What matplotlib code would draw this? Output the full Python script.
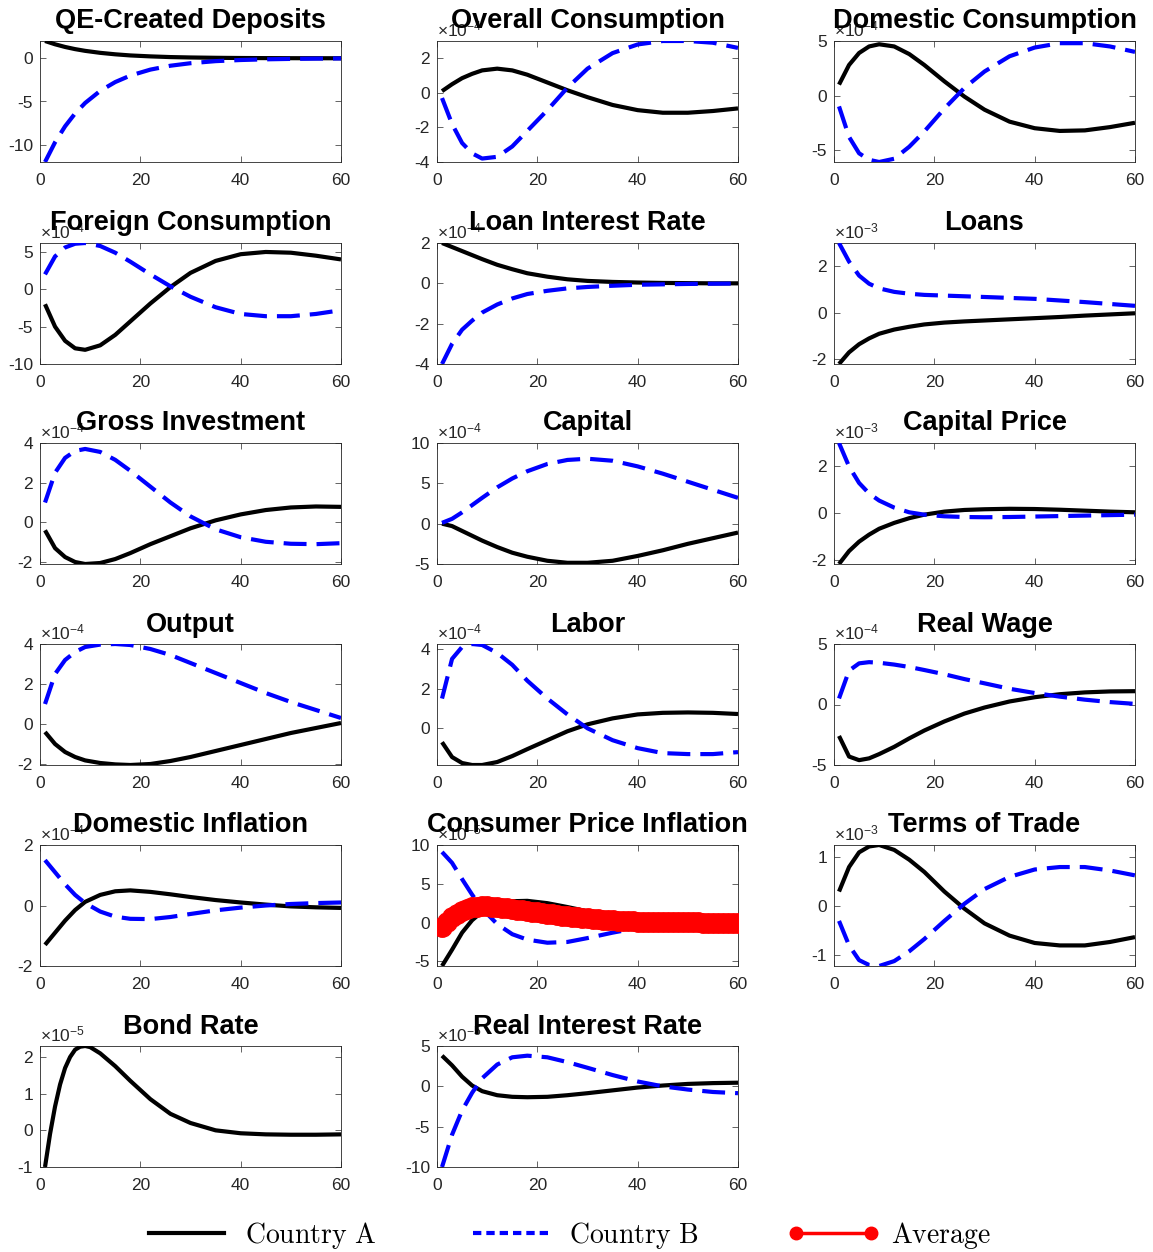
import matplotlib
matplotlib.use('Agg')
import matplotlib.pyplot as plt
from matplotlib.lines import Line2D

plt.rcParams['font.family'] = ['Liberation Sans', 'DejaVu Sans']
plt.rcParams['mathtext.fontset'] = 'custom'
plt.rcParams['mathtext.rm'] = 'Liberation Sans'
plt.rcParams['mathtext.it'] = 'Liberation Sans:italic'
plt.rcParams['mathtext.bf'] = 'Liberation Sans:bold'
plt.rcParams['axes.unicode_minus'] = False

# ---------------- data ----------------
t = [1, 3, 5, 7, 9, 12, 15, 18, 22, 26, 30, 35, 40, 45, 50, 55, 60]

qe_a = [2.0, 1.62, 1.31, 1.06, 0.86, 0.63, 0.46, 0.33, 0.22, 0.14, 0.094, 0.056, 0.033, 0.02, 0.011, 0.007, 0.004]
qe_b = [-12.0, -9.72, -7.87, -6.38, -5.17, -3.77, -2.75, -2.0, -1.31, -0.86, -0.57, -0.33, -0.20, -0.12, -0.07, -0.04, -0.02]

cons_a = [0.1, 0.5, 0.85, 1.1, 1.3, 1.4, 1.3, 1.05, 0.6, 0.15, -0.25, -0.7, -1.0, -1.15, -1.15, -1.05, -0.9]
cons_b = [-0.3, -1.8, -2.9, -3.5, -3.8, -3.7, -3.1, -2.2, -1.0, 0.3, 1.4, 2.3, 2.8, 3.0, 3.0, 2.9, 2.6]

dcons_a = [1.0, 2.8, 3.9, 4.5, 4.7, 4.5, 3.8, 2.8, 1.3, -0.1, -1.3, -2.4, -3.0, -3.25, -3.2, -2.9, -2.5]
dcons_b = [-1.0, -3.8, -5.3, -5.9, -6.1, -5.8, -4.7, -3.3, -1.2, 0.7, 2.2, 3.6, 4.4, 4.8, 4.8, 4.5, 4.0]

fcons_a = [-2.0, -5.0, -6.9, -7.9, -8.1, -7.5, -6.1, -4.3, -1.9, 0.3, 2.2, 3.8, 4.7, 5.0, 4.9, 4.5, 4.0]
fcons_b = [2.0, 4.4, 5.6, 6.1, 6.2, 5.8, 4.9, 3.7, 2.0, 0.4, -1.0, -2.4, -3.3, -3.6, -3.6, -3.3, -2.8]

lrate_a = [2.0, 1.8, 1.6, 1.4, 1.2, 0.92, 0.7, 0.5, 0.33, 0.2, 0.12, 0.07, 0.04, 0.02, 0.01, 0.0, 0.0]
lrate_b = [-4.0, -3.0, -2.3, -1.85, -1.45, -1.05, -0.75, -0.53, -0.37, -0.25, -0.18, -0.12, -0.07, -0.05, -0.03, -0.02, -0.01]

loans_a = [-2.2, -1.7, -1.35, -1.1, -0.9, -0.72, -0.6, -0.5, -0.42, -0.37, -0.33, -0.28, -0.23, -0.18, -0.12, -0.07, -0.02]
loans_b = [3.0, 2.2, 1.6, 1.25, 1.05, 0.9, 0.82, 0.77, 0.74, 0.71, 0.68, 0.64, 0.6, 0.53, 0.46, 0.38, 0.3]

inv_a = [-0.4, -1.3, -1.75, -2.0, -2.1, -2.05, -1.85, -1.55, -1.1, -0.7, -0.3, 0.1, 0.4, 0.62, 0.75, 0.8, 0.78]
inv_b = [1.0, 2.5, 3.25, 3.6, 3.7, 3.55, 3.15, 2.6, 1.8, 1.0, 0.3, -0.35, -0.75, -0.98, -1.08, -1.1, -1.05]

cap_a = [0.0, -0.3, -0.9, -1.5, -2.1, -2.9, -3.6, -4.1, -4.6, -4.85, -4.85, -4.6, -4.0, -3.3, -2.5, -1.8, -1.1]
cap_b = [0.1, 0.6, 1.4, 2.3, 3.2, 4.5, 5.6, 6.5, 7.4, 7.9, 8.05, 7.8, 7.1, 6.2, 5.2, 4.2, 3.2]

cprice_a = [-2.15, -1.6, -1.2, -0.9, -0.65, -0.4, -0.2, -0.05, 0.08, 0.15, 0.18, 0.2, 0.19, 0.16, 0.12, 0.08, 0.05]
cprice_b = [3.0, 2.0, 1.3, 0.85, 0.55, 0.25, 0.05, -0.05, -0.12, -0.15, -0.16, -0.15, -0.13, -0.11, -0.09, -0.07, -0.05]

out_a = [-0.4, -1.0, -1.4, -1.65, -1.82, -1.95, -2.02, -2.05, -2.0, -1.85, -1.65, -1.35, -1.05, -0.75, -0.45, -0.2, 0.05]
out_b = [1.0, 2.5, 3.2, 3.6, 3.85, 3.97, 4.0, 3.95, 3.75, 3.45, 3.05, 2.55, 2.05, 1.55, 1.1, 0.7, 0.3]

lab_a = [-0.7, -1.45, -1.75, -1.85, -1.85, -1.7, -1.4, -1.05, -0.6, -0.15, 0.2, 0.5, 0.7, 0.78, 0.8, 0.78, 0.72]
lab_b = [1.5, 3.5, 4.1, 4.25, 4.2, 3.8, 3.2, 2.4, 1.5, 0.7, 0.0, -0.6, -1.0, -1.25, -1.3, -1.3, -1.2]

wage_a = [-2.6, -4.3, -4.6, -4.45, -4.1, -3.5, -2.8, -2.15, -1.4, -0.75, -0.25, 0.25, 0.6, 0.85, 1.0, 1.08, 1.1]
wage_b = [0.5, 2.8, 3.4, 3.5, 3.45, 3.3, 3.1, 2.85, 2.5, 2.1, 1.75, 1.3, 0.95, 0.65, 0.4, 0.2, 0.05]

dinf_a = [-1.3, -0.9, -0.5, -0.15, 0.12, 0.35, 0.47, 0.5, 0.45, 0.37, 0.28, 0.18, 0.1, 0.03, -0.03, -0.06, -0.08]
dinf_b = [1.5, 1.1, 0.7, 0.35, 0.08, -0.2, -0.37, -0.44, -0.45, -0.38, -0.28, -0.16, -0.07, 0.0, 0.05, 0.08, 0.1]

cpi_a = [-5.6, -3.5, -1.3, 0.3, 1.4, 2.3, 2.75, 2.8, 2.5, 2.0, 1.45, 0.85, 0.4, 0.15, 0.0, -0.05, -0.05]
cpi_b = [9.1, 7.7, 5.6, 3.6, 1.8, -0.2, -1.5, -2.2, -2.6, -2.5, -2.0, -1.3, -0.7, -0.3, -0.05, 0.05, 0.1]
avg_t = list(range(1, 61))
cpi_avg = [-0.6, 0.1, 0.7, 1.15, 1.5, 1.75, 1.95, 2.05, 2.1, 2.1,
           2.05, 2.0, 1.92, 1.85, 1.75, 1.65, 1.56, 1.47, 1.38, 1.3,
           1.22, 1.14, 1.06, 0.98, 0.9, 0.83, 0.76, 0.69, 0.62, 0.56,
           0.5, 0.44, 0.39, 0.34, 0.29, 0.25, 0.21, 0.17, 0.14, 0.11,
           0.09, 0.07, 0.06, 0.05, 0.04, 0.03, 0.03, 0.02, 0.02, 0.01,
           0.01, 0.01, 0.0, 0.0, 0.0, 0.0, 0.0, 0.0, 0.0, 0.0]

tot_a = [0.3, 0.8, 1.1, 1.22, 1.25, 1.15, 0.95, 0.7, 0.3, -0.05, -0.35, -0.6, -0.75, -0.8, -0.8, -0.73, -0.63]
tot_b = [-0.3, -0.8, -1.1, -1.2, -1.22, -1.12, -0.92, -0.67, -0.3, 0.05, 0.35, 0.6, 0.75, 0.8, 0.8, 0.73, 0.63]

bond_t = [1, 2, 3, 4, 5, 6, 7, 8, 9, 10, 12, 15, 18, 22, 26, 30, 35, 40, 45, 50, 55, 60]
bond_a = [-1.0, -0.1, 0.65, 1.25, 1.7, 2.0, 2.2, 2.28, 2.3, 2.27, 2.1, 1.75, 1.35, 0.85, 0.45, 0.2, 0.0, -0.08, -0.11, -0.12, -0.12, -0.11]

rir_a = [3.8, 2.6, 1.2, 0.1, -0.6, -1.1, -1.3, -1.35, -1.3, -1.1, -0.85, -0.5, -0.15, 0.1, 0.3, 0.4, 0.45]
rir_b = [-10.0, -6.0, -3.0, -0.8, 1.0, 2.7, 3.6, 3.8, 3.6, 3.0, 2.3, 1.4, 0.6, 0.0, -0.4, -0.7, -0.85]

titles = ['QE-Created Deposits', 'Overall Consumption', 'Domestic Consumption',
          'Foreign Consumption', 'Loan Interest Rate', 'Loans',
          'Gross Investment', 'Capital', 'Capital Price',
          'Output', 'Labor', 'Real Wage',
          'Domestic Inflation', 'Consumer Price Inflation', 'Terms of Trade',
          'Bond Rate', 'Real Interest Rate']
exponents = [None, -4, -4, -4, -4, -3, -4, -4, -3, -4, -4, -4, -4, -5, -3, -5, -5]
series_a = [qe_a, cons_a, dcons_a, fcons_a, lrate_a, loans_a, inv_a, cap_a, cprice_a,
            out_a, lab_a, wage_a, dinf_a, cpi_a, tot_a, bond_a, rir_a]
series_b = [qe_b, cons_b, dcons_b, fcons_b, lrate_b, loans_b, inv_b, cap_b, cprice_b,
            out_b, lab_b, wage_b, dinf_b, cpi_b, tot_b, None, rir_b]
yticks = [[-10, -5, 0], [-4, -2, 0, 2], [-5, 0, 5], [-10, -5, 0, 5], [-4, -2, 0, 2],
          [-2, 0, 2], [-2, 0, 2, 4], [-5, 0, 5, 10], [-2, 0, 2], [-2, 0, 2, 4],
          [0, 2, 4], [-5, 0, 5], [-2, 0, 2], [-5, 0, 5, 10], [-1, 0, 1],
          [-1, 0, 1, 2], [-10, -5, 0, 5]]
xticks = [0, 20, 40, 60]
legend_labels = ['Country A', 'Country B', 'Average']

# ---------------- layout ----------------
W, H = 1153, 1252
fig = plt.figure(figsize=(W / 100, H / 100), dpi=100)
col_left = [40, 437, 834]
row_top = [41, 243, 443, 644, 845, 1046]
aw, ah = 301, 121
GRAY = '#262626'

for i, title in enumerate(titles):
    r, c = divmod(i, 3)
    ax = fig.add_axes([col_left[c] / W, 1 - (row_top[r] + ah) / H, aw / W, ah / H])
    xa = bond_t if series_b[i] is None else t
    ax.plot(xa, series_a[i], color='black', lw=3, solid_capstyle='butt', zorder=3)
    if series_b[i] is not None:
        ax.plot(t, series_b[i], color=(0, 0, 1), lw=3, dashes=(5.5, 2.4), zorder=3)
    if title == 'Consumer Price Inflation':
        ax.plot(avg_t, cpi_avg, color=(1, 0, 0), lw=3, marker='o', ms=14,
                mfc=(1, 0, 0), mec=(1, 0, 0), zorder=4)
    ax.set_xlim(0, 60)
    ax.margins(y=0)
    ax.autoscale(axis='y', tight=True)
    ax.set_xticks(xticks)
    ax.set_yticks(yticks[i])
    ax.tick_params(direction='in', length=4, width=0.5, color=GRAY, labelcolor=GRAY,
                   labelsize=12.5, top=True, right=True)
    ax.tick_params(axis='x', pad=8)
    ax.tick_params(axis='y', pad=5)
    for s in ax.spines.values():
        s.set_color(GRAY)
        s.set_linewidth(0.6)
    if exponents[i] is not None:
        ax.text(0.0, 1.015, r'$\times10^{%d}$' % exponents[i], transform=ax.transAxes,
                ha='left', va='bottom', fontsize=12.5, color=GRAY, zorder=1)
    ax.set_title(title, fontsize=19.5, fontweight='bold', pad=9, zorder=5)

handles = [Line2D([], [], color='black', lw=3),
           Line2D([], [], color=(0, 0, 1), lw=3, dashes=(2.0, 1.2)),
           Line2D([], [], color=(1, 0, 0), lw=2.5, marker='o', ms=9)]
labels = [r'$\mathrm{%s}$' % s.replace(' ', r'\ ') for s in legend_labels]
fig.legend(handles, labels, loc='center', bbox_to_anchor=(0.491, 0.0135), ncol=3,
           frameon=False, numpoints=2, handlelength=3.3, handletextpad=0.45,
           columnspacing=3.2, prop={'size': 20, 'math_fontfamily': 'cm'})

fig.savefig('out.png', dpi=100)
